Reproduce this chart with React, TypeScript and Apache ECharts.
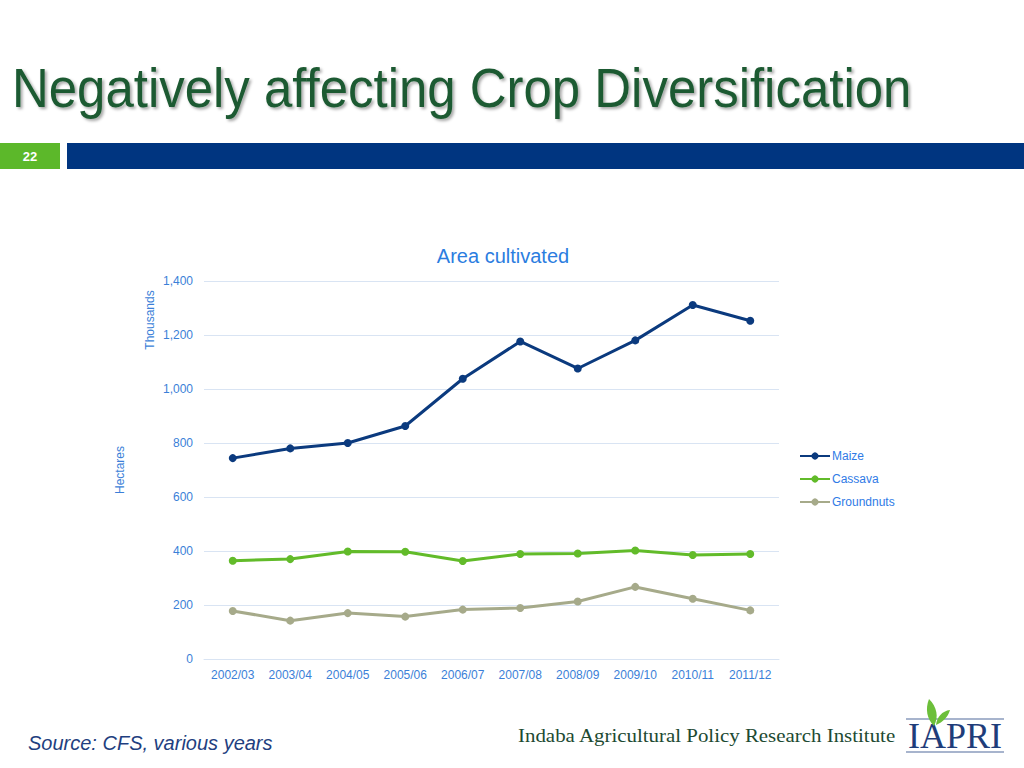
import React, { useEffect, useRef } from "react";
import * as echarts from "echarts";

const categories = ["2002/03", "2003/04", "2004/05", "2005/06", "2006/07", "2007/08", "2008/09", "2009/10", "2010/11", "2011/12"];
const maize = [744, 780, 800, 863, 1038, 1176, 1076, 1180, 1311, 1253];
const cassava = [364, 370, 398, 397, 363, 389, 391, 402, 385, 389];
const groundnuts = [178, 142, 170, 157, 183, 189, 213, 267, 223, 180];
const yTicks = { min: 0, max: 1400, interval: 200 };

const LEAF =
  "M10,27 C3,20 1,10 5,0 C13,8 15,18 10,27 Z M12,26 C13,18 18,12 26,11 C24,18 19,23 12,26 Z";

export default function App() {
  const ref = useRef<HTMLDivElement>(null);
  useEffect(() => {
    document.body.style.margin = "0";
    try {
      echarts.graphic.registerShape("logo", echarts.graphic.extendPath(LEAF, {}));
    } catch (e) {}
    const chart = echarts.init(ref.current!, undefined, { renderer: "svg" });
    const axisBlue = "#3b7fd8";
    const mk = (name: string, data: number[], color: string) => ({
      name,
      type: "line",
      data,
      symbol: "circle",
      symbolSize: 8,
      lineStyle: { color, width: 3 },
      itemStyle: { color },
    });
    chart.setOption({
      animation: false,
      backgroundColor: "#ffffff",
      title: {
        text: "Area cultivated",
        left: 498,
        textAlign: "center",
        top: 241,
        textStyle: { color: "#2b7de0", fontSize: 20, fontWeight: "normal", fontFamily: "Liberation Sans" },
      },
      grid: { left: 204, right: 245, top: 281, bottom: 109 },
      legend: {
        orient: "vertical",
        left: 794,
        top: 445,
        itemWidth: 30,
        itemHeight: 9,
        itemGap: 11,
        textStyle: { color: "#2f7be6", fontSize: 12, fontFamily: "Liberation Sans", padding: [0, 0, 0, -3] },
        data: ["Maize", "Cassava", "Groundnuts"],
      },
      xAxis: {
        type: "category",
        data: categories,
        boundaryGap: true,
        axisLine: { show: true, lineStyle: { color: "#d9e4f3", width: 1 } },
        axisTick: { show: false },
        axisLabel: { color: axisBlue, fontSize: 12, fontFamily: "Liberation Sans", margin: 10 },
      },
      yAxis: {
        type: "value",
        min: yTicks.min,
        max: yTicks.max,
        interval: yTicks.interval,
        axisLine: { show: false },
        axisTick: { show: false },
        splitLine: { lineStyle: { color: "#d9e4f3", width: 1 } },
        axisLabel: {
          color: axisBlue,
          fontSize: 12,
          fontFamily: "Liberation Sans",
          margin: 11,
          formatter: (v: number) => v.toLocaleString("en-US"),
        },
      },
      series: [
        mk("Maize", maize, "#0b3a7e"),
        mk("Cassava", cassava, "#62bb2a"),
        mk("Groundnuts", groundnuts, "#a6aa8a"),
      ],
      graphic: [
        {
          type: "text",
          x: 12,
          y: 60,
          scaleX: 0.91,
          style: {
            text: "Negatively affecting Crop Diversification",
            fill: "#1d5a32",
            font: "56px 'Liberation Sans'",
            textShadowColor: "rgba(0,0,0,0.35)",
            textShadowBlur: 3,
            textShadowOffsetX: 2,
            textShadowOffsetY: 2,
          },
        },
        { type: "rect", shape: { x: 0, y: 143, width: 60, height: 26 }, style: { fill: "#5cb82a" } },
        {
          type: "text",
          x: 30,
          y: 156,
          style: { text: "22", fill: "#ffffff", font: "bold 13px 'Liberation Sans'", align: "center", verticalAlign: "middle" },
        },
        { type: "rect", shape: { x: 67, y: 143, width: 957, height: 26 }, style: { fill: "#003580" } },
        {
          type: "text",
          x: 150,
          y: 320,
          rotation: Math.PI / 2,
          style: { text: "Thousands", fill: axisBlue, font: "12px 'Liberation Sans'", align: "center", verticalAlign: "middle" },
        },
        {
          type: "text",
          x: 120,
          y: 470,
          rotation: Math.PI / 2,
          style: { text: "Hectares", fill: axisBlue, font: "12px 'Liberation Sans'", align: "center", verticalAlign: "middle" },
        },
        {
          type: "text",
          x: 28,
          y: 743,
          style: { text: "Source: CFS, various years", fill: "#1f3f80", font: "italic 20px 'Liberation Sans'", verticalAlign: "middle" },
        },
        {
          type: "text",
          x: 518,
          y: 735,
          scaleX: 1.1,
          style: { text: "Indaba Agricultural Policy Research Institute", fill: "#1d4a32", font: "19px 'Liberation Serif'", verticalAlign: "middle" },
        },
        { type: "line", shape: { x1: 906, y1: 719, x2: 1004, y2: 719 }, style: { stroke: "#8a9bbd", lineWidth: 1.5 } },
        { type: "line", shape: { x1: 906, y1: 752, x2: 1004, y2: 752 }, style: { stroke: "#8a9bbd", lineWidth: 1.5 } },
        {
          type: "text",
          x: 955,
          y: 736,
          style: { text: "IAPRI", fill: "#1f3d7a", font: "36px 'Liberation Serif'", align: "center", verticalAlign: "middle" },
        },
        { type: "logo", x: 924, y: 699, scaleX: 1, scaleY: 1, style: { fill: "#6cbf3a" } },
      ],
    });
    return () => chart.dispose();
  }, []);
  return <div ref={ref} style={{ width: 1024, height: 768 }} />;
}
